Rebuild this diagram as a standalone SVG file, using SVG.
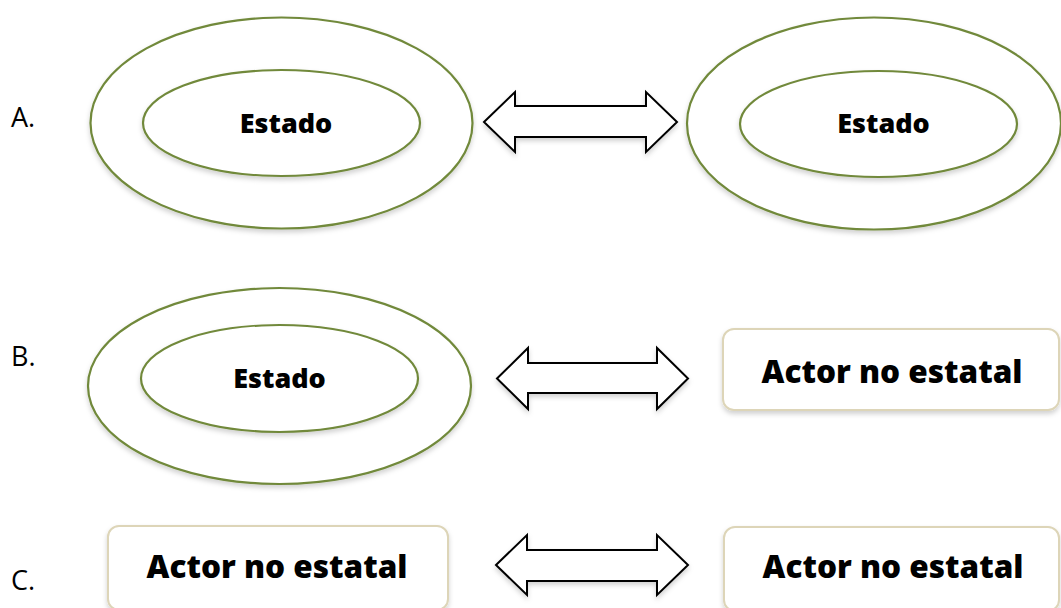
<svg xmlns="http://www.w3.org/2000/svg" width="1061" height="608" viewBox="0 0 1061 608">
  <defs>
    <filter id="sh" x="-10%" y="-10%" width="120%" height="130%">
      <feDropShadow dx="0" dy="3" stdDeviation="2.5" flood-color="#000" flood-opacity="0.18"/>
    </filter>
    <style>
      .ellf { fill: #fff; stroke: #71893b; stroke-width: 2.2; }
      .box { fill: #fff; stroke: #ddd5b8; stroke-width: 2; }
      .arr { fill: #fff; stroke: #000; stroke-width: 2; stroke-linejoin: miter; }
      .t { font-family: "Open Sans", "Liberation Sans", sans-serif; font-weight: 800; fill: #000; text-anchor: middle; }
      .lbl { font-family: "Open Sans", "Liberation Sans", sans-serif; font-size: 27px; font-weight: 500; fill: #000; }
    </style>
  </defs>
  <rect width="1061" height="608" fill="#fff"/>

  <g id="labels">
    <text class="lbl" x="11" y="127">A.</text>
    <text class="lbl" x="11" y="366">B.</text>
    <text class="lbl" x="11" y="590">C.</text>
  </g>

  <g id="nodeA1">
    <ellipse class="ellf" cx="281.5" cy="123" rx="191" ry="105.5" filter="url(#sh)"/>
    <ellipse class="ellf" cx="281.5" cy="123" rx="138.5" ry="53" filter="url(#sh)"/>
    <text class="t" x="286" y="133" font-size="27">Estado</text>
  </g>
  <g id="nodeA2">
    <ellipse class="ellf" cx="874" cy="123.5" rx="187" ry="106" filter="url(#sh)"/>
    <ellipse class="ellf" cx="878.5" cy="124" rx="138.5" ry="53" filter="url(#sh)"/>
    <text class="t" x="883.5" y="133" font-size="27">Estado</text>
  </g>
  <g id="nodeB1">
    <ellipse class="ellf" cx="279.5" cy="386" rx="191.5" ry="98" filter="url(#sh)"/>
    <ellipse class="ellf" cx="279.5" cy="378.5" rx="138.5" ry="53.5" filter="url(#sh)"/>
    <text class="t" x="279.5" y="388" font-size="27">Estado</text>
  </g>
  <g id="nodeB2">
    <rect class="box" x="723" y="329" width="336" height="81" rx="11" filter="url(#sh)"/>
    <text class="t" x="892" y="383" font-size="31.5">Actor no estatal</text>
  </g>
  <g id="nodeC1">
    <rect class="box" x="108" y="526" width="340" height="84" rx="11" filter="url(#sh)"/>
    <text class="t" x="277" y="578" font-size="31.5">Actor no estatal</text>
  </g>
  <g id="nodeC2">
    <rect class="box" x="724" y="527" width="335" height="84" rx="11" filter="url(#sh)"/>
    <text class="t" x="893" y="578" font-size="31.5">Actor no estatal</text>
  </g>

  <g id="connectors">
    <polygon class="arr" filter="url(#sh)" points="484,122 515,92 515,106 646,106 646,92 677,122 646,152 646,137 515,137 515,152"/>
    <polygon class="arr" filter="url(#sh)" points="497,378.5 528,348 528,363 657,363 657,348 688,378.5 657,409 657,393 528,393 528,409"/>
    <polygon class="arr" filter="url(#sh)" points="496,565 527,535 527,550 657,550 657,535 688,565 657,595 657,581 527,581 527,595"/>
  </g>
</svg>
